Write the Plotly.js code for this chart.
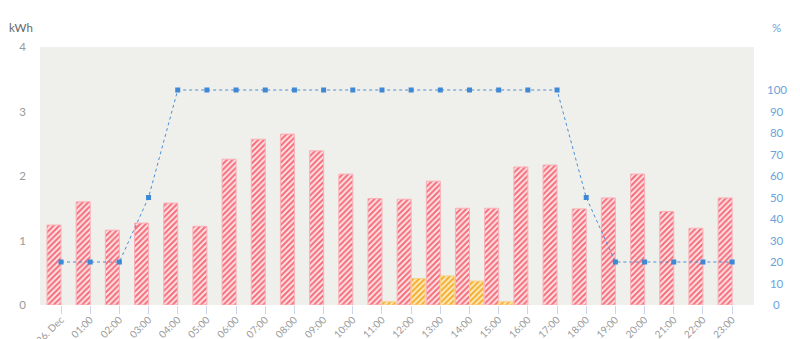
<!DOCTYPE html>
<html><head><meta charset="utf-8">
<script src="https://cdn.plot.ly/plotly-3.0.1.min.js"></script>
<style>html,body{margin:0;padding:0;background:#fff}#chart{width:800px;height:339px}</style>
</head><body><div id="chart"></div>
<script>
const hours = ["26. Dec","01:00","02:00","03:00","04:00","05:00","06:00","07:00","08:00","09:00","10:00","11:00","12:00","13:00","14:00","15:00","16:00","17:00","18:00","19:00","20:00","21:00","22:00","23:00"];
const consumption = [1.24,1.60,1.16,1.27,1.58,1.22,2.26,2.57,2.65,2.39,2.03,1.65,1.64,1.92,1.50,1.50,2.14,2.17,1.49,1.66,2.03,1.45,1.19,1.66];
const production = [null,null,null,null,null,null,null,null,null,null,null,0.05,0.41,0.45,0.37,0.05,null,null,null,null,null,null,null,null];
const percent = [20,20,20,50,100,100,100,100,100,100,100,100,100,100,100,100,100,100,50,20,20,20,20,20];
const leftTicks = [0,1,2,3,4];
const rightTicks = [0,10,20,30,40,50,60,70,80,90,100];

const idx = hours.map((_, i) => i);
const font = "Lato, 'Open Sans', sans-serif";
const nb = '\u00a0';
const rightText = rightTicks.map(v => (v < 10 ? nb + nb : v < 100 ? nb : '') + v);

const traces = [
  {type:'bar', x: idx, y: consumption, name:'Consumption',
   marker:{color:'#f7737f', line:{color:'#fbb0b7', width:1},
     pattern:{shape:'/', fgcolor:'#f56c79', bgcolor:'#fde4e6', size:4, solidity:0.5}}},
  {type:'bar', x: idx, y: production, name:'Production',
   marker:{color:'#f5b335', line:{color:'#f9cf7e', width:1},
     pattern:{shape:'/', fgcolor:'#f4ad2a', bgcolor:'#fdebc4', size:4, solidity:0.5}}},
  {type:'scatter', mode:'lines+markers', x: idx, y: percent, yaxis:'y2', name:'%',
   line:{color:'#4a8fd8', width:1, dash:'dot'},
   marker:{symbol:'square', size:5, color:'#3f88d4'}}
];

const layout = {
  width:800, height:339,
  margin:{l:40, r:46, t:47, b:34},
  paper_bgcolor:'#ffffff', plot_bgcolor:'#efefeb',
  showlegend:false, barmode:'group', bargap:0.04, bargroupgap:0,
  font:{family:font, color:'#999999', size:11},
  xaxis:{range:[-0.72,23.75], tickmode:'array', tickvals: idx, ticktext: hours,
    tickangle:-45, ticks:'outside', ticklen:8, tickcolor:'#ccd6eb', tickwidth:1,
    showgrid:false, zeroline:false, showline:false, automargin:false, ticklabelstandoff:-4,
    tickfont:{size:10, color:'#999999', family:font}},
  yaxis:{range:[0,4], tickvals:leftTicks, showgrid:false, zeroline:false, showline:false,
    ticks:'', ticklabelstandoff:13, automargin:false, tickfont:{size:11.5, color:'#999999', family:font}},
  yaxis2:{overlaying:'y', side:'right', range:[0,120], tickvals:rightTicks, ticktext:rightText,
    showgrid:false, zeroline:false, showline:false, ticks:'', ticklabelstandoff:12, automargin:false,
    tickfont:{size:11.5, color:'#6aa3dc', family:font}},
  annotations:[
    {text:'kWh', xref:'paper', yref:'paper', x:-0.027, y:1.0, yshift:20, xanchor:'center', yanchor:'middle',
     showarrow:false, font:{size:11.5, color:'#666666', family:font}},
    {text:'%', xref:'paper', yref:'paper', x:1, xshift:22, y:1.0, yshift:20, xanchor:'center', yanchor:'middle',
     showarrow:false, font:{size:11.5, color:'#6aa3dc', family:font}}
  ]
};

Plotly.newPlot('chart', traces, layout, {displayModeBar:false, staticPlot:true});
</script></body></html>
